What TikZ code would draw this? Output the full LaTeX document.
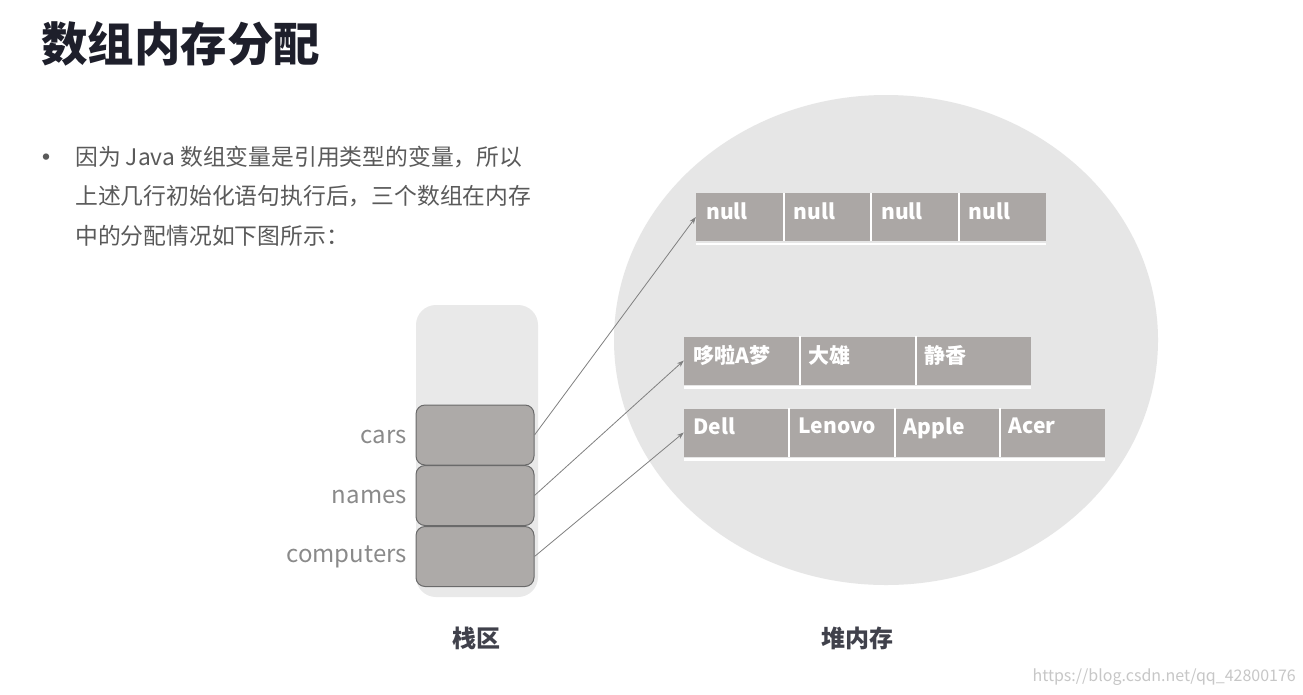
\documentclass[tikz,border=0pt]{standalone}
\usepackage{fontspec}
\setmainfont{Noto Sans CJK SC}
\usetikzlibrary{arrows.meta,shapes.geometric}
\definecolor{titlec}{HTML}{1E1F2B}
\definecolor{bodyc}{HTML}{5A5A5A}
\definecolor{labc}{HTML}{8A8A8A}
\definecolor{cellc}{HTML}{ABA7A5}
\definecolor{stackbg}{HTML}{E9E9E9}
\definecolor{heapbg}{HTML}{E6E6E6}
\definecolor{boxc}{HTML}{ADAAA8}
\definecolor{boxline}{HTML}{6A6A6A}
\definecolor{arrc}{HTML}{808080}
\begin{document}
\begin{tikzpicture}[x=1pt,y=-1pt,
  cellbox/.style={fill=cellc,minimum height=48pt,inner sep=0pt},
  sep/.style={draw=white,line width=2pt},
  celltext/.style={font=\fontsize{21}{21}\selectfont\bfseries,text=white},
  stackbox/.style={draw=boxline,line width=1pt,fill=boxc,rounded corners=9pt,minimum width=118pt,minimum height=60pt,inner sep=0pt},
  varlab/.style={anchor=east,font=\fontsize{24}{24}\selectfont,text=labc,inner sep=0pt},
  body/.style={anchor=west,font=\fontsize{22.8}{22.8}\selectfont,text=bodyc,inner sep=0pt},
  ptr/.style={draw=arrc,line width=0.8pt,-{Stealth[length=7pt,width=5pt]}},
  area/.style={font=\fontsize{24}{24}\selectfont\bfseries,text=titlec!85!white,inner sep=0pt}
]
\useasboundingbox[fill=white] (0,0) rectangle (1303,694);

% title
\node[anchor=west,inner sep=0pt,font=\fontsize{46.5}{46.5}\selectfont\bfseries,text=titlec] (title) at (41,44) {数组内存分配};

% bullet text
\node[anchor=center,inner sep=0pt,font=\fontsize{30}{30}\selectfont,text=bodyc] (bul) at (46,161) {•};
\node[body] (l1) at (75,157) {因为 Java 数组变量是引用类型的变量，所以};
\node[body] (l2) at (75,196) {上述几行初始化语句执行后，三个数组在内存};
\node[body] (l3) at (75,236) {中的分配情况如下图所示：};

% heap
\node[ellipse,fill=heapbg,minimum width=544pt,minimum height=490pt,inner sep=0pt] (heap) at (886,340) {};

% stack
\node[fill=stackbg,rounded corners=20pt,minimum width=122pt,minimum height=292pt,inner sep=0pt] (stack) at (477,451) {};
\node[stackbox] (cars) at (475,435) {};
\node[stackbox] (names) at (475,495.5) {};
\node[stackbox] (comp) at (475,556.5) {};
\node[varlab] (lcars) at (407,437) {cars};
\node[varlab] (lnames) at (407,497) {names};
\node[varlab] (lcomp) at (407,557) {computers};

% row 1: null
\foreach \i/\t in {0/null,1/null,2/null,3/null}{
  \node[cellbox,minimum width=87.5pt] (n\i) at ({739.75+87.5*\i},217) {};
  \node[celltext,anchor=north west,inner sep=0pt] (nt\i) at ({706+87.5*\i},203) {\t};
}
\foreach \i in {0,1,2}{ \draw[sep] (n\i.north east) -- (n\i.south east); }
\draw[white,line width=2.5pt] (n0.south west) ++(0,3) coordinate (u1a) -- (n3.south east |- u1a);

% row 2: names
\foreach \i/\t in {0/哆啦A梦,1/大雄,2/静香}{
  \node[cellbox,minimum width=115.7pt] (m\i) at ({741.85+115.7*\i},360.5) {};
  \node[celltext,anchor=north west,inner sep=0pt] (mt\i) at ({693+115.7*\i},345) {\t};
}
\foreach \i in {0,1}{ \draw[sep] (m\i.north east) -- (m\i.south east); }
\draw[white,line width=2.5pt] (m0.south west) ++(0,3) coordinate (u2a) -- (m2.south east |- u2a);

% row 3: computers
\foreach \i/\t in {0/Dell,1/Lenovo,2/Apple,3/Acer}{
  \node[cellbox,minimum width=105.25pt] (c\i) at ({736.6+105.25*\i},432.5) {};
  \node[celltext,anchor=north west,inner sep=0pt] (ct\i) at ({693+105.25*\i},418) {\t};
}
\foreach \i in {0,1,2}{ \draw[sep] (c\i.north east) -- (c\i.south east); }
\draw[white,line width=2.5pt] (c0.south west) ++(0,3) coordinate (u3a) -- (c3.south east |- u3a);

% pointers
\draw[ptr] (cars.east) -- (n0.west);
\draw[ptr] (names.east) -- (m0.west);
\draw[ptr] (comp.east) -- (c0.west);

% area labels
\node[area] (stacklab) at (476,638) {栈区};
\node[area] (heaplab) at (857,638) {堆内存};

% watermark
\node[anchor=east,inner sep=0pt,font=\fontsize{16}{16}\selectfont,text=black!22] (wm) at (1296,677) {https://blog.csdn.net/qq\_42800176};
\end{tikzpicture}
\end{document}
